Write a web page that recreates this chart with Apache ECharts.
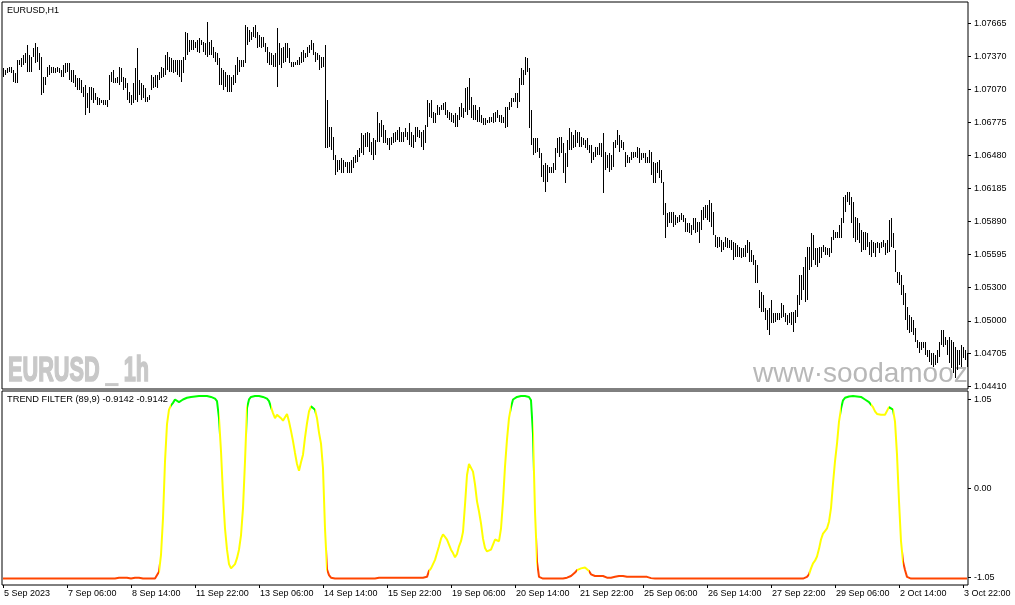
<!DOCTYPE html>
<html><head><meta charset="utf-8">
<script src="https://cdn.jsdelivr.net/npm/echarts@6/dist/echarts.min.js"></script>
<style>html,body{margin:0;padding:0;background:#fff}#c{width:1015px;height:605px}</style>
</head><body><div id="c"></div>
<script>
// EURUSD H1 bars (high / low), one value per bar
const barHigh = [
1.07262,1.07247,1.07262,1.07277,1.07277,1.07247,1.07217,1.07337,1.07337,1.07351,
1.07381,1.07396,1.07471,1.07381,1.07366,1.07441,1.07486,1.07456,1.07396,1.07366,
1.07187,1.07187,1.07277,1.07292,1.07277,1.07277,1.07262,1.07277,1.07262,1.07247,
1.07292,1.07307,1.07307,1.07307,1.07247,1.07247,1.07202,1.07172,1.07172,1.07157,
1.07098,1.07113,1.07038,1.07098,1.07098,1.07083,1.07038,1.07008,1.06993,1.06978,
1.06978,1.06978,1.06978,1.07202,1.07232,1.07247,1.07172,1.07187,1.07277,1.07262,
1.07187,1.07172,1.07127,1.07053,1.07023,1.07127,1.07262,1.07441,1.07157,1.07127,
1.07113,1.07083,1.07008,1.07023,1.07202,1.07187,1.07202,1.07202,1.07232,1.07277,
1.07262,1.07381,1.07411,1.07366,1.07351,1.07337,1.07337,1.07337,1.07337,1.07337,
1.07366,1.07590,1.07575,1.07516,1.07516,1.07516,1.07501,1.07516,1.07531,1.07516,
1.07501,1.07486,1.07680,1.07501,1.07516,1.07456,1.07411,1.07396,1.07351,1.07262,
1.07247,1.07232,1.07202,1.07202,1.07187,1.07202,1.07292,1.07366,1.07337,1.07337,
1.07337,1.07650,1.07635,1.07605,1.07590,1.07635,1.07650,1.07590,1.07560,1.07546,
1.07546,1.07486,1.07456,1.07411,1.07396,1.07381,1.07396,1.07620,1.07486,1.07441,
1.07456,1.07486,1.07486,1.07441,1.07322,1.07322,1.07322,1.07337,1.07366,1.07411,
1.07426,1.07396,1.07456,1.07471,1.07516,1.07486,1.07411,1.07396,1.07381,1.07366,
1.07366,1.07471,1.06978,1.06739,1.06739,1.06650,1.06486,1.06441,1.06441,1.06456,
1.06441,1.06426,1.06426,1.06426,1.06441,1.06471,1.06486,1.06530,1.06545,1.06680,
1.06665,1.06680,1.06695,1.06680,1.06605,1.06635,1.06620,1.06874,1.06769,1.06799,
1.06754,1.06709,1.06635,1.06635,1.06650,1.06680,1.06695,1.06709,1.06739,1.06695,
1.06695,1.06724,1.06695,1.06769,1.06695,1.06665,1.06739,1.06739,1.06709,1.06695,
1.06709,1.06754,1.06978,1.06948,1.06978,1.06874,1.06859,1.06933,1.06918,1.06933,
1.06948,1.06963,1.06889,1.06874,1.06859,1.06844,1.06859,1.06844,1.06918,1.06948,
1.06904,1.07083,1.07098,1.07172,1.07008,1.06933,1.06933,1.06889,1.06918,1.06844,
1.06814,1.06814,1.06799,1.06829,1.06829,1.06859,1.06874,1.06889,1.06844,1.06844,
1.06829,1.06918,1.06918,1.06963,1.06993,1.06993,1.07038,1.07038,1.07172,1.07262,
1.07247,1.07366,1.07351,1.07262,1.06889,1.06635,1.06635,1.06635,1.06545,1.06500,
1.06396,1.06411,1.06396,1.06381,1.06381,1.06411,1.06545,1.06635,1.06650,1.06650,
1.06590,1.06500,1.06620,1.06724,1.06695,1.06665,1.06709,1.06695,1.06695,1.06650,
1.06635,1.06620,1.06635,1.06575,1.06575,1.06515,1.06560,1.06560,1.06590,1.06590,
1.06680,1.06515,1.06486,1.06500,1.06486,1.06605,1.06620,1.06709,1.06665,1.06620,
1.06605,1.06515,1.06486,1.06471,1.06515,1.06515,1.06515,1.06560,1.06545,1.06500,
1.06500,1.06500,1.06471,1.06530,1.06515,1.06426,1.06411,1.06426,1.06441,1.06351,
1.06247,1.06053,1.05963,1.05978,1.05978,1.05978,1.05948,1.05933,1.05948,1.05963,
1.05948,1.05918,1.05873,1.05873,1.05858,1.05918,1.05918,1.05888,1.05888,1.05993,
1.06023,1.06038,1.06038,1.06082,1.06053,1.05978,1.05769,1.05754,1.05754,1.05724,
1.05709,1.05754,1.05739,1.05724,1.05724,1.05709,1.05694,1.05679,1.05664,1.05649,
1.05649,1.05679,1.05724,1.05709,1.05635,1.05590,1.05545,1.05500,1.05276,1.05261,
1.05231,1.05112,1.05097,1.05112,1.05187,1.05067,1.05067,1.05067,1.05067,1.05157,
1.05142,1.05067,1.05052,1.05067,1.05082,1.05082,1.05097,1.05231,1.05411,1.05411,
1.05485,1.05575,1.05664,1.05664,1.05784,1.05769,1.05649,1.05649,1.05664,1.05664,
1.05679,1.05664,1.05649,1.05649,1.05754,1.05814,1.05799,1.05799,1.05858,1.05918,
1.06112,1.06127,1.06157,1.06157,1.06112,1.06067,1.05933,1.05918,1.05873,1.05814,
1.05799,1.05799,1.05784,1.05709,1.05724,1.05709,1.05694,1.05709,1.05694,1.05709,
1.05724,1.05694,1.05724,1.05903,1.05918,1.05784,1.05635,1.05440,1.05440,1.05411,
1.05321,1.05246,1.05127,1.05052,1.05037,1.05007,1.04933,1.04828,1.04813,1.04813,
1.04813,1.04813,1.04739,1.04739,1.04709,1.04709,1.04694,1.04739,1.04813,1.04918,
1.04918,1.04858,1.04828,1.04858,1.04828,1.04813,1.04769,1.04739,1.04739,1.04784,
1.04769,1.04739,1.04709
];
const barLow = [
1.07187,1.07202,1.07217,1.07232,1.07217,1.07142,1.07127,1.07127,1.07292,1.07277,
1.07292,1.07307,1.07232,1.07232,1.07232,1.07366,1.07307,1.07322,1.07247,1.07023,
1.07038,1.07113,1.07187,1.07202,1.07217,1.07217,1.07217,1.07232,1.07217,1.07187,
1.07187,1.07217,1.07232,1.07157,1.07142,1.07127,1.07098,1.07068,1.07068,1.07038,
1.07008,1.06844,1.06904,1.06859,1.06978,1.06948,1.06978,1.06933,1.06933,1.06948,
1.06933,1.06933,1.06918,1.06978,1.07142,1.07127,1.07127,1.07127,1.07113,1.07142,
1.07068,1.07083,1.06978,1.06948,1.06933,1.06948,1.06978,1.06963,1.07023,1.06978,
1.06993,1.06963,1.06963,1.06978,1.07068,1.07083,1.07098,1.07083,1.07157,1.07172,
1.07187,1.07202,1.07247,1.07232,1.07232,1.07217,1.07232,1.07202,1.07187,1.07142,
1.07217,1.07337,1.07381,1.07411,1.07426,1.07426,1.07441,1.07411,1.07396,1.07471,
1.07411,1.07381,1.07366,1.07381,1.07381,1.07351,1.07322,1.07292,1.07113,1.07113,
1.07068,1.07098,1.07053,1.07053,1.07053,1.07113,1.07127,1.07202,1.07232,1.07277,
1.07277,1.07307,1.07471,1.07501,1.07516,1.07546,1.07531,1.07441,1.07456,1.07441,
1.07456,1.07411,1.07307,1.07292,1.07292,1.07277,1.07277,1.07098,1.07292,1.07262,
1.07307,1.07322,1.07351,1.07307,1.07277,1.07277,1.07292,1.07292,1.07292,1.07307,
1.07322,1.07351,1.07366,1.07396,1.07426,1.07381,1.07322,1.07337,1.07247,1.07262,
1.07277,1.06545,1.06545,1.06560,1.06530,1.06441,1.06306,1.06336,1.06351,1.06321,
1.06321,1.06381,1.06321,1.06321,1.06321,1.06366,1.06411,1.06426,1.06471,1.06500,
1.06486,1.06560,1.06560,1.06515,1.06486,1.06441,1.06486,1.06605,1.06605,1.06650,
1.06590,1.06590,1.06575,1.06530,1.06575,1.06590,1.06605,1.06620,1.06605,1.06605,
1.06605,1.06650,1.06620,1.06575,1.06560,1.06545,1.06605,1.06650,1.06635,1.06560,
1.06530,1.06590,1.06739,1.06829,1.06814,1.06769,1.06769,1.06844,1.06844,1.06889,
1.06889,1.06844,1.06814,1.06799,1.06784,1.06769,1.06739,1.06739,1.06799,1.06829,
1.06814,1.06874,1.06844,1.06889,1.06814,1.06799,1.06799,1.06784,1.06784,1.06769,
1.06754,1.06754,1.06769,1.06769,1.06784,1.06769,1.06784,1.06814,1.06784,1.06769,
1.06769,1.06724,1.06739,1.06889,1.06918,1.06963,1.06963,1.06904,1.06963,1.07113,
1.07113,1.07202,1.07232,1.06724,1.06575,1.06486,1.06500,1.06515,1.06456,1.06291,
1.06247,1.06157,1.06247,1.06321,1.06321,1.06321,1.06351,1.06500,1.06471,1.06500,
1.06321,1.06232,1.06381,1.06530,1.06530,1.06545,1.06560,1.06590,1.06560,1.06560,
1.06575,1.06545,1.06530,1.06500,1.06411,1.06441,1.06471,1.06486,1.06486,1.06471,
1.06142,1.06351,1.06366,1.06336,1.06351,1.06381,1.06545,1.06575,1.06515,1.06545,
1.06530,1.06381,1.06411,1.06411,1.06441,1.06456,1.06471,1.06456,1.06411,1.06441,
1.06456,1.06411,1.06411,1.06411,1.06306,1.06232,1.06232,1.06321,1.06276,1.06232,
1.05948,1.05739,1.05844,1.05873,1.05873,1.05844,1.05858,1.05873,1.05888,1.05903,
1.05888,1.05799,1.05799,1.05784,1.05769,1.05814,1.05784,1.05799,1.05694,1.05814,
1.05903,1.05918,1.05903,1.05888,1.05844,1.05769,1.05664,1.05649,1.05664,1.05620,
1.05635,1.05664,1.05649,1.05649,1.05635,1.05545,1.05575,1.05575,1.05575,1.05560,
1.05575,1.05575,1.05605,1.05530,1.05530,1.05500,1.05336,1.05336,1.05112,1.05082,
1.05082,1.05007,1.04918,1.04873,1.04978,1.04978,1.04993,1.05007,1.05007,1.05022,
1.05037,1.04993,1.04963,1.04978,1.04963,1.04903,1.04978,1.05037,1.05142,1.05187,
1.05276,1.05172,1.05187,1.05455,1.05485,1.05545,1.05500,1.05485,1.05515,1.05560,
1.05620,1.05590,1.05590,1.05575,1.05605,1.05724,1.05739,1.05739,1.05739,1.05739,
1.05873,1.05978,1.06067,1.06038,1.05873,1.05739,1.05709,1.05724,1.05694,1.05620,
1.05635,1.05635,1.05664,1.05590,1.05575,1.05605,1.05575,1.05649,1.05605,1.05649,
1.05664,1.05590,1.05605,1.05620,1.05664,1.05649,1.05440,1.05336,1.05321,1.05231,
1.05142,1.05007,1.04918,1.04888,1.04903,1.04873,1.04813,1.04754,1.04709,1.04739,
1.04754,1.04694,1.04679,1.04635,1.04605,1.04590,1.04605,1.04620,1.04679,1.04784,
1.04769,1.04784,1.04694,1.04620,1.04575,1.04530,1.04485,1.04560,1.04605,1.04590,
1.04664,1.04649,1.04590
];
// TREND FILTER (89,9) value per bar
const trendFilter = [
-1.06,-1.06,-1.06,-1.06,-1.06,-1.06,-1.06,-1.06,-1.06,-1.06,
-1.06,-1.06,-1.06,-1.06,-1.06,-1.06,-1.06,-1.06,-1.06,-1.06,
-1.06,-1.06,-1.06,-1.06,-1.06,-1.06,-1.06,-1.06,-1.06,-1.06,
-1.06,-1.06,-1.06,-1.06,-1.06,-1.06,-1.06,-1.06,-1.06,-1.06,
-1.06,-1.06,-1.06,-1.06,-1.06,-1.06,-1.06,-1.06,-1.06,-1.06,
-1.06,-1.06,-1.06,-1.06,-1.06,-1.06,-1.06,-1.05,-1.05,-1.05,
-1.05,-1.05,-1.05,-1.06,-1.06,-1.06,-1.05,-1.05,-1.05,-1.05,
-1.06,-1.06,-1.06,-1.06,-1.06,-1.06,-1.06,-1.04,-0.98,-0.78,
-0.35,0.32,0.76,0.93,0.98,1.01,1.05,1.03,1.02,1.03,
1.05,1.06,1.07,1.08,1.08,1.085,1.085,1.085,1.09,1.09,
1.09,1.09,1.09,1.085,1.08,1.07,1.06,1.03,0.83,0.44,
-0.07,-0.47,-0.72,-0.89,-0.94,-0.93,-0.89,-0.82,-0.72,-0.55,
-0.23,0.32,0.95,1.05,1.08,1.085,1.09,1.09,1.09,1.085,
1.08,1.07,1.06,1.03,0.96,0.89,0.83,0.87,0.85,0.83,
0.80,0.84,0.88,0.79,0.68,0.56,0.42,0.29,0.21,0.31,
0.40,0.60,0.77,0.91,0.97,0.97,0.93,0.83,0.66,0.53,
0.24,-0.47,-0.95,-1.02,-1.05,-1.06,-1.06,-1.06,-1.06,-1.06,
-1.06,-1.06,-1.06,-1.06,-1.06,-1.06,-1.06,-1.06,-1.06,-1.06,
-1.06,-1.06,-1.06,-1.06,-1.06,-1.06,-1.06,-1.06,-1.05,-1.05,
-1.05,-1.05,-1.05,-1.05,-1.05,-1.05,-1.05,-1.05,-1.05,-1.05,
-1.05,-1.05,-1.05,-1.05,-1.05,-1.05,-1.05,-1.05,-1.05,-1.05,
-1.05,-1.05,-1.04,-0.97,-0.94,-0.92,-0.84,-0.76,-0.68,-0.59,
-0.54,-0.57,-0.60,-0.66,-0.72,-0.76,-0.81,-0.77,-0.68,-0.62,
-0.51,-0.19,0.16,0.29,0.30,0.20,0.05,-0.15,-0.27,-0.41,
-0.59,-0.70,-0.74,-0.74,-0.72,-0.66,-0.60,-0.60,-0.62,-0.47,
-0.15,0.26,0.58,0.83,0.96,1.05,1.07,1.08,1.085,1.09,
1.09,1.09,1.09,1.08,1.04,0.64,-0.27,-0.86,-1.04,-1.06,
-1.06,-1.06,-1.06,-1.06,-1.06,-1.06,-1.06,-1.06,-1.06,-1.06,
-1.06,-1.06,-1.05,-1.05,-1.03,-1.02,-0.99,-0.96,-0.95,-0.94,
-0.93,-0.93,-0.94,-0.97,-1.01,-1.03,-1.03,-1.03,-1.03,-1.03,
-1.03,-1.04,-1.05,-1.05,-1.05,-1.05,-1.04,-1.03,-1.03,-1.02,
-1.03,-1.03,-1.04,-1.04,-1.04,-1.04,-1.04,-1.04,-1.04,-1.04,
-1.04,-1.04,-1.04,-1.04,-1.055,-1.06,-1.06,-1.06,-1.06,-1.06,
-1.06,-1.06,-1.06,-1.06,-1.06,-1.06,-1.06,-1.06,-1.06,-1.06,
-1.06,-1.06,-1.06,-1.06,-1.06,-1.06,-1.06,-1.06,-1.06,-1.06,
-1.06,-1.06,-1.06,-1.06,-1.06,-1.06,-1.06,-1.06,-1.06,-1.06,
-1.06,-1.06,-1.06,-1.06,-1.06,-1.06,-1.06,-1.06,-1.06,-1.06,
-1.06,-1.06,-1.06,-1.06,-1.06,-1.06,-1.06,-1.06,-1.06,-1.06,
-1.06,-1.06,-1.06,-1.06,-1.06,-1.06,-1.06,-1.06,-1.06,-1.06,
-1.06,-1.06,-1.06,-1.06,-1.06,-1.06,-1.06,-1.06,-1.06,-1.06,
-1.06,-1.05,-1.04,-1.01,-0.94,-0.88,-0.85,-0.80,-0.71,-0.60,
-0.53,-0.50,-0.47,-0.39,-0.23,0.06,0.32,0.53,0.79,0.94,
1.04,1.07,1.08,1.085,1.09,1.09,1.09,1.085,1.08,1.08,
1.06,1.05,1.04,1.02,1.00,0.96,0.91,0.88,0.87,0.87,
0.87,0.87,0.88,0.96,0.97,0.93,0.79,0.40,-0.15,-0.62,
-0.86,-0.96,-1.04,-1.06,-1.06,-1.06,-1.06,-1.06,-1.06,-1.06,
-1.06,-1.06,-1.06,-1.06,-1.06,-1.06,-1.06,-1.06,-1.06,-1.06,
-1.06,-1.06,-1.06,-1.06,-1.06,-1.06,-1.06,-1.06,-1.06,-1.06,
-1.06,-1.06,-1.06
];
// colour state of the filter line: [first bar position, state]
const trendState = [
[-1,'R'],[77.5,'Y'],[83.5,'G'],[107.5,'Y'],[121.5,'G'],[133.5,'Y'],[153.5,'G'],[155.5,'Y'],
[161.5,'R'],[212.5,'Y'],[253.5,'G'],[264.5,'Y'],[267,'R'],[286.5,'Y'],[292.5,'R'],
[403,'Y'],[418.7,'G'],[433.9,'Y'],[442.7,'G'],[444.5,'Y'],[449.5,'R']
];
const timeTickLabels = ['5 Sep 2023','7 Sep 06:00','8 Sep 14:00','11 Sep 22:00','13 Sep 06:00','14 Sep 14:00',
'15 Sep 22:00','19 Sep 06:00','20 Sep 14:00','21 Sep 22:00','25 Sep 06:00','26 Sep 14:00','27 Sep 22:00',
'29 Sep 06:00','2 Oct 14:00','3 Oct 22:00'];
const priceTicks = [1.04410,1.04705,1.05000,1.05300,1.05595,1.05890,1.06185,1.06480,1.06775,1.07070,1.07370,1.07665];
const filterTicks = [-1.05,0,1.05];

const stateColor = {R:'#ff4500', Y:'#ffff00', G:'#00ff00'};
const FONT = '"Liberation Sans", Arial, sans-serif';
const barIndex = barHigh.map((_, i) => i);
const pieces = trendState.map((s, k) => ({
  gte: s[0], lt: k + 1 < trendState.length ? trendState[k + 1][0] : 100000, color: stateColor[s[1]]
}));

const chart = echarts.init(document.getElementById('c'), null, {renderer: 'canvas'});
const option = {
  animation: false,
  backgroundColor: '#fff',
  textStyle: {fontFamily: FONT},
  grid: [
    {left: 2, top: 2, width: 966, height: 387, show: true, borderColor: '#000', borderWidth: 1, backgroundColor: 'transparent'},
    {left: 2, top: 391, width: 966, height: 194, show: true, borderColor: '#000', borderWidth: 1, backgroundColor: 'transparent'}
  ],
  xAxis: [
    {type: 'category', gridIndex: 0, data: barIndex, boundaryGap: true, show: false},
    {type: 'category', gridIndex: 1, data: barIndex, boundaryGap: true, position: 'bottom',
      axisLine: {show: false, onZero: false},
      axisTick: {show: true, interval: (i) => i % 32 === 0, alignWithLabel: true, length: 3, lineStyle: {color: '#000'}},
      axisLabel: {interval: (i) => i % 32 === 0, formatter: (v, i) => timeTickLabels[i / 32],
        align: 'left', margin: 4, color: '#000', fontSize: 9, fontFamily: FONT, padding: [0, 0, 0, 1]},
      splitLine: {show: false}}
  ],
  yAxis: [
    {type: 'value', gridIndex: 0, position: 'right', min: 1.04389, max: 1.07856, scale: true,
      splitLine: {show: false}, axisLine: {show: false},
      axisTick: {show: true, length: 3, customValues: priceTicks, lineStyle: {color: '#000'}},
      axisLabel: {customValues: priceTicks, formatter: (v) => v.toFixed(5), margin: 6, color: '#000', fontSize: 9, fontFamily: FONT}},
    {type: 'value', gridIndex: 1, position: 'right', min: -1.136, max: 1.15,
      splitLine: {show: false}, axisLine: {show: false},
      axisTick: {show: true, length: 3, customValues: filterTicks, lineStyle: {color: '#000'}},
      axisLabel: {customValues: filterTicks, formatter: (v) => v.toFixed(2), margin: 6, color: '#000', fontSize: 9, fontFamily: FONT}}
  ],
  visualMap: {type: 'piecewise', show: false, dimension: 0, seriesIndex: 1, pieces: pieces},
  series: [
    {type: 'custom', xAxisIndex: 0, yAxisIndex: 0, silent: true, clip: true, z: 3,
      data: barIndex.map((i) => [i, barHigh[i], barLow[i]]),
      encode: {x: 0, y: [1, 2]},
      renderItem: (params, api) => {
        const hi = api.coord([api.value(0), api.value(1)]);
        const lo = api.coord([api.value(0), api.value(2)]);
        const x = Math.round(hi[0]);
        const y1 = Math.round(hi[1]);
        const y2 = Math.round(lo[1]);
        return {type: 'rect', shape: {x: x, y: y1, width: 1, height: Math.max(1, y2 - y1)}, style: {fill: '#000'}};
      }},
    {type: 'line', xAxisIndex: 1, yAxisIndex: 1, data: trendFilter, showSymbol: false, symbol: 'none',
      lineStyle: {width: 2}, silent: true, z: 3}
  ],
  graphic: [
    {type: 'text', left: 7, top: 6, z: 10, style: {text: 'EURUSD,H1', font: '9px ' + FONT, fill: '#000'}},
    {type: 'text', left: 7, top: 395, z: 10, style: {text: 'TREND FILTER (89,9) -0.9142 -0.9142', font: '9.3px ' + FONT, fill: '#000'}},
    {type: 'text', x: 8, y: 371, scaleX: 0.62, z: 1, style: {text: 'EURUSD _ 1h', font: 'bold 35px ' + FONT, fill: '#c8c8c8', stroke: '#c8c8c8', lineWidth: 1.6, textVerticalAlign: 'middle'}},
    {type: 'text', x: 753, y: 374, z: 1, style: {text: 'www·soodamooz', font: '28px ' + FONT, fill: '#b8b8b8', textVerticalAlign: 'middle'}}
  ]
};
chart.setOption(option);
</script>
</body></html>
